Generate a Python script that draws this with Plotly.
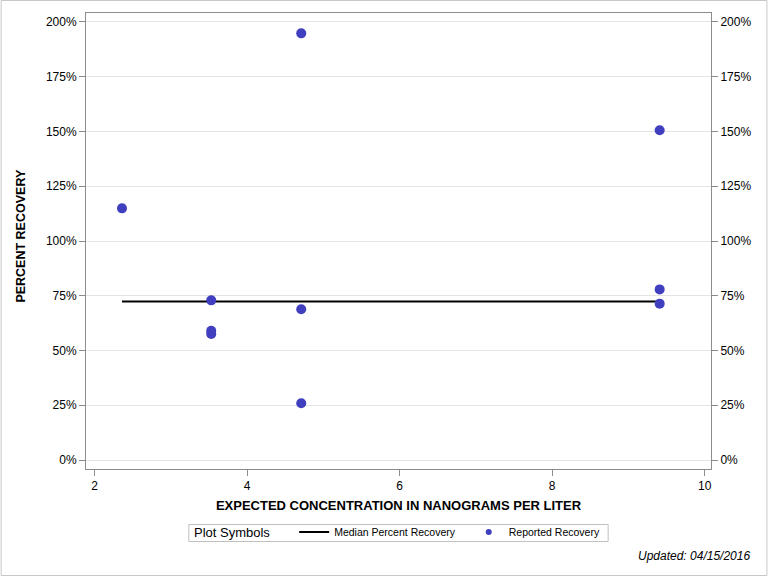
import plotly.graph_objects as go

# Data
expected_conc = [2.36, 3.53, 3.53, 3.53, 4.71, 4.71, 4.71, 9.41, 9.41, 9.41]
percent_recovery = [114.9, 72.9, 59.0, 57.5, 194.8, 68.8, 25.9, 150.6, 77.9, 71.4]
median_x = [2.36, 9.41]
median_y = [72.4, 72.4]
y_tickvals = [0, 25, 50, 75, 100, 125, 150, 175, 200]
y_ticktext = ["0%", "25%", "50%", "75%", "100%", "125%", "150%", "175%", "200%"]
x_tickvals = [2, 4, 6, 8, 10]

FONT = "Liberation Sans Narrow, Arial Narrow, Liberation Sans, Arial, sans-serif"
DOT = "#3f3fbf"
AX = "#8c8c8c"

fig = go.Figure()
fig.add_trace(go.Scatter(
    x=median_x, y=median_y, mode="lines",
    line=dict(color="black", width=2),
    name="Median Percent Recovery   "))
fig.add_trace(go.Scatter(
    x=expected_conc, y=percent_recovery, mode="markers",
    marker=dict(color=DOT, size=10, line=dict(width=0)),
    name="Reported Recovery", showlegend=False, legendgroup="rep"))
# legend-only entry with a smaller symbol, as in the reference legend
fig.add_trace(go.Scatter(
    x=[None], y=[None], mode="markers",
    marker=dict(color=DOT, size=6, line=dict(width=0)),
    name="Reported Recovery", legendgroup="rep"))
# invisible trace to activate right axis
fig.add_trace(go.Scatter(
    x=[expected_conc[0]], y=[percent_recovery[0]], yaxis="y2", mode="markers",
    marker=dict(opacity=0), showlegend=False, hoverinfo="skip"))

L, R, T, B = 85.5, 711.5, 13, 469
W, H = 768, 576
pw, ph = R - L, B - T

def px(x):
    return (x - L) / pw

def py(y):
    return (B - y) / ph

fig.update_layout(
    width=W, height=H,
    margin=dict(l=L, r=W - R, t=T, b=H - B),
    paper_bgcolor="white", plot_bgcolor="white",
    font=dict(family=FONT, size=12, color="black"),
    xaxis=dict(
        range=[1.888, 10.083], tickvals=x_tickvals,
        ticks="outside", ticklen=6, tickcolor=AX,
        showline=True, linecolor=AX, linewidth=1, mirror=True,
        showgrid=False, zeroline=False,
        tickfont=dict(family=FONT, size=12),
        title=dict(text="<b>EXPECTED CONCENTRATION IN NANOGRAMS PER LITER</b>",
                   font=dict(family=FONT, size=13), standoff=8),
    ),
    yaxis=dict(
        range=[-4.1, 204.1], tickvals=y_tickvals, ticktext=y_ticktext,
        ticks="outside", ticklen=6, tickcolor=AX,
        showline=True, linecolor=AX, linewidth=1,
        showgrid=True, gridcolor="#e4e4e4", gridwidth=1, zeroline=False,
        tickfont=dict(family=FONT, size=12),
    ),
    yaxis2=dict(
        range=[-4.1, 204.1], tickvals=y_tickvals, ticktext=y_ticktext,
        overlaying="y", side="right",
        ticks="outside", ticklen=6, tickcolor=AX,
        showline=True, linecolor=AX, linewidth=1,
        showgrid=False, zeroline=False,
        tickfont=dict(family=FONT, size=12),
    ),
    showlegend=True,
    legend=dict(
        orientation="h", x=px(294), xanchor="left",
        y=py(517.5), yanchor="top",
        borderwidth=0, bgcolor="rgba(0,0,0,0)",
        font=dict(family=FONT, size=10.5),
        itemwidth=30, tracegroupgap=0,
    ),
    annotations=[
        dict(text="<b>PERCENT RECOVERY</b>", textangle=-90,
             xref="paper", yref="paper", x=px(20), y=py(236),
             xanchor="center", yanchor="middle", showarrow=False,
             font=dict(family=FONT, size=12.5, color="black")),
        dict(text="Plot Symbols", xref="paper", yref="paper",
             x=px(192), y=py(532.5), xanchor="left", yanchor="middle",
             showarrow=False, font=dict(family=FONT, size=13, color="black")),
        dict(text="<i>Updated: 04/15/2016</i>", xref="paper", yref="paper",
             x=px(753), y=py(556), xanchor="right", yanchor="middle",
             showarrow=False, font=dict(family=FONT, size=12, color="black")),
    ],
    shapes=[
        dict(type="rect", xref="paper", yref="paper",
             x0=px(0.5), x1=px(W - 0.5), y0=py(H - 0.5), y1=py(0.5),
             line=dict(color="#c8c8c8", width=1), layer="below"),
        dict(type="rect", xref="paper", yref="paper",
             x0=px(188.5), x1=px(608.5), y0=py(541.5), y1=py(524.5),
             line=dict(color="#c0c0c0", width=1), layer="below"),
    ],
)

fig.write_html("out.html", config={"displayModeBar": False},
               post_script="document.body.style.margin='0px';document.body.style.overflow='hidden';")
